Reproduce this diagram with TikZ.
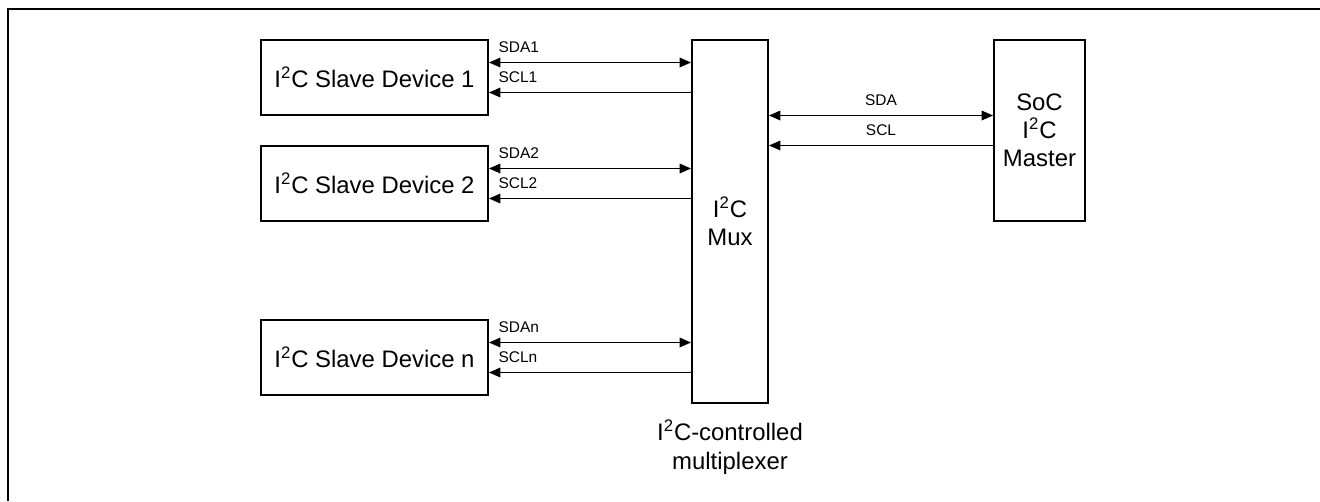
\documentclass[tikz,border=0pt]{standalone}
\usepackage{fontspec}
\setmainfont{Liberation Sans}
\usetikzlibrary{arrows.meta,positioning}
\newcommand{\iic}{I\textsuperscript{2}C}
\tikzset{
  blk/.style={draw,line width=1.1pt,inner sep=0pt,align=center,font=\fontsize{13.6}{16}\selectfont},
  slave/.style={blk,minimum width=4.54cm,minimum height=1.5cm},
  bus/.style={line width=0.7pt,-{Triangle[length=6.5pt,width=5.5pt]}},
  bibus/.style={line width=0.7pt,{Triangle[length=6.5pt,width=5.5pt]}-{Triangle[length=6.5pt,width=5.5pt]}},
  sig/.style={font=\fontsize{8.8}{10}\selectfont,inner sep=0pt}
}

\begin{document}
\begin{tikzpicture}[x=0.02cm,y=-0.02cm]
\useasboundingbox (0,0) rectangle (1320,501);
\draw[line width=1.1pt] (1320,9) -- (8,9) -- (8,501);
% slave devices
\node[slave] (s1) at (374.5,77.5) {\iic{} Slave Device 1};
\node[slave] (s2) at (374.5,183.5) {\iic{} Slave Device 2};
\node[slave] (sn) at (374.5,357.5) {\iic{} Slave Device n};
% mux and master
\node[blk,minimum width=1.52cm,minimum height=7.26cm] (mux) at (730,221.5) {\iic\\Mux};
\node[blk,minimum width=1.82cm,minimum height=3.62cm] (soc) at (1039.5,130.5) {SoC\\\iic\\Master};
\node[font=\fontsize{13.6}{16}\selectfont,align=center] (cap) at (730,447) {\iic-controlled\\multiplexer};
% buses
\foreach \s/\n in {s1/1,s2/2,sn/n}{
  \draw[bibus] ([yshift=0.3cm]\s.east) -- ([yshift=0.3cm]\s.east -| mux.west)
    node[sig,pos=0,anchor=base west,xshift=0.18cm,yshift=0.21cm] {SDA\n};
  \draw[bus] ([yshift=-0.3cm]\s.east -| mux.west) -- ([yshift=-0.3cm]\s.east)
    node[sig,pos=1,anchor=base west,xshift=0.18cm,yshift=0.21cm] {SCL\n};
}
\draw[bibus] ([yshift=0.3cm]soc.west -| mux.east) -- ([yshift=0.3cm]soc.west)
  node[sig,midway,anchor=base,yshift=0.21cm] {SDA};
\draw[bus] ([yshift=-0.3cm]soc.west) -- ([yshift=-0.3cm]soc.west -| mux.east)
  node[sig,midway,anchor=base,yshift=0.21cm] {SCL};
\end{tikzpicture}
\end{document}
